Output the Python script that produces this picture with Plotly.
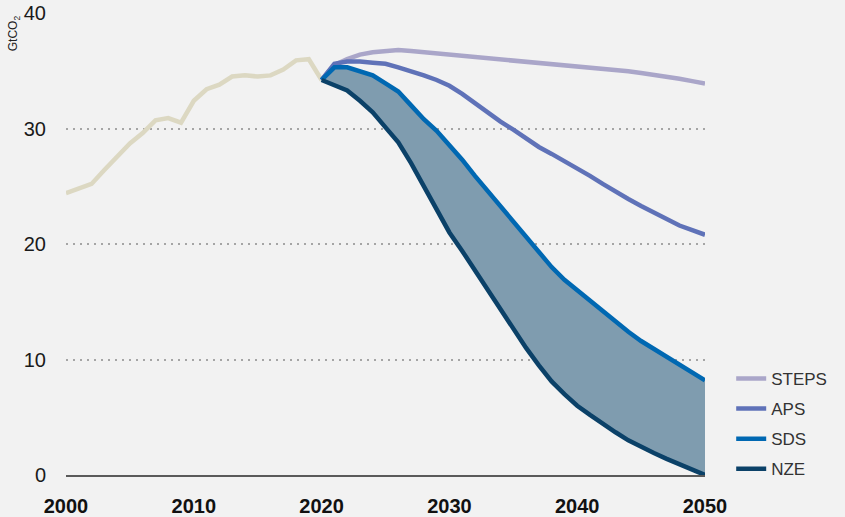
import plotly.graph_objects as go

# historical emissions, GtCO2
hist_years = list(range(2000, 2021))
hist_values = [24.4, 24.8, 25.2, 26.4, 27.6, 28.7, 29.6, 30.7, 30.9, 30.5,
               32.4, 33.4, 33.8, 34.5, 34.6, 34.5, 34.6, 35.1, 35.9, 36.0, 34.2]

# scenarios 2020-2050
scen_years = list(range(2020, 2051))
steps = [34.2, 35.5, 36.0, 36.4, 36.6, 36.7, 36.8, 36.7, 36.6, 36.5,
         36.4, 36.3, 36.2, 36.1, 36.0, 35.9, 35.8, 35.7, 35.6, 35.5,
         35.4, 35.3, 35.2, 35.1, 34.95, 34.8, 34.65, 34.5, 34.3, 34.1, 33.9]
aps = [34.2, 35.6, 35.8, 35.8, 35.7, 35.6, 35.3, 35.0, 34.6, 34.2,
       33.7, 33.0, 32.2, 31.3, 30.6, 29.9, 29.1, 28.4, 27.8, 27.2,
       26.6, 25.9, 25.2, 24.5, 23.9, 23.3, 22.7, 22.1, 21.6, 21.2, 20.8]
sds = [34.2, 35.3, 35.3, 35.0, 34.6, 33.9, 33.2, 32.0, 30.8, 29.8,
       28.6, 27.3, 25.9, 24.6, 23.2, 21.9, 20.6, 19.3, 18.0, 16.9,
       16.0, 15.0, 14.1, 13.2, 12.4, 11.6, 10.9, 10.2, 9.5, 8.8, 8.2]
nze = [34.2, 33.8, 33.3, 32.4, 31.4, 30.1, 28.8, 27.0, 25.0, 23.0,
       21.0, 19.4, 17.7, 16.0, 14.3, 12.6, 11.0, 9.5, 8.1, 7.0,
       6.0, 5.2, 4.4, 3.7, 3.0, 2.4, 1.9, 1.4, 0.9, 0.45, 0.0]

FONT = "Liberation Sans, Roboto, Arial, sans-serif"

fig = go.Figure()

# shaded gap between SDS and NZE
fig.add_trace(go.Scatter(x=scen_years, y=sds, mode="lines", line=dict(width=0),
                         showlegend=False, hoverinfo="skip"))
fig.add_trace(go.Scatter(x=scen_years, y=nze, mode="lines", line=dict(width=0),
                         fill="tonexty", fillcolor="#7f9caf",
                         showlegend=False, hoverinfo="skip"))

fig.add_trace(go.Scatter(x=hist_years, y=hist_values, mode="lines",
                         line=dict(color="#dcd8c2", width=4.5), showlegend=False))

series = [("STEPS", steps, "#aaa6c9"),
          ("APS", aps, "#5f72b8"),
          ("SDS", sds, "#0068b2"),
          ("NZE", nze, "#0b4168")]
for name, vals, col in series:
    fig.add_trace(go.Scatter(x=scen_years, y=vals, mode="lines", name=name,
                             legendgroup=name,
                             line=dict(color=col, width=4.5)))

fig.update_layout(
    width=845, height=517,
    paper_bgcolor="#f2f2f2", plot_bgcolor="#f2f2f2",
    margin=dict(l=66, r=140, t=13, b=42),
    font=dict(family=FONT, size=20, color="#1a1a1a"),
    legend=dict(x=1.041, y=0.247, xanchor="left", yanchor="top",
                bgcolor="rgba(0,0,0,0)", tracegroupgap=5,
                font=dict(size=17, color="#333")),
    xaxis=dict(range=[2000, 2050], tickvals=[2000, 2010, 2020, 2030, 2040, 2050],
               showgrid=False, zeroline=False, showline=True, automargin=False,
               linecolor="#5a5a5a", linewidth=2, ticks="",
               tickfont=dict(family=FONT, size=20, weight="bold", color="#111"),
               ticklabelstandoff=12),
    yaxis=dict(range=[0, 40], tickvals=[0, 10, 20, 30, 40],
               showgrid=True, gridcolor="#a5a5a5", gridwidth=2, griddash="2px,5px",
               zeroline=False, showline=False, automargin=False,
               ticks="outside", ticklen=15, tickcolor="rgba(0,0,0,0)"),
    annotations=[dict(text="GtCO<sub>2</sub>", xref="paper", yref="paper",
                      x=-0.081, y=1.0, xanchor="center", yanchor="top",
                      textangle=-90, showarrow=False,
                      font=dict(family=FONT, size=12, color="#222"))],
)

# drop the page's default body margin so the figure sits at the window corner
fig.write_html("out.html", config={"displayModeBar": False},
               post_script="document.body.style.margin='0';")
